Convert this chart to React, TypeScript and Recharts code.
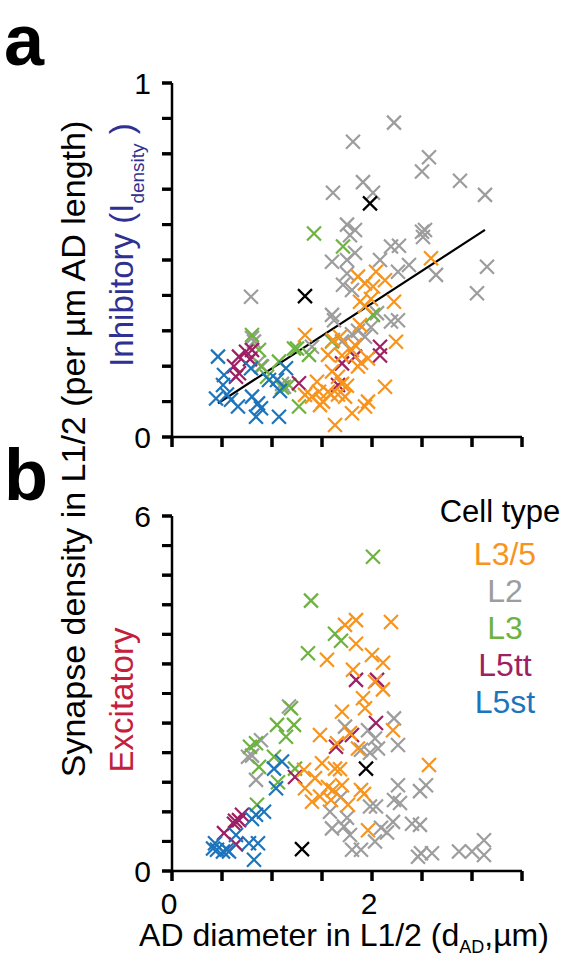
import React from "react"
import { ScatterChart, Scatter, XAxis, YAxis, ReferenceLine } from "recharts"

const FONT = "'Liberation Sans', Arial, sans-serif"

// cell types, legend order
const cellTypes = ["L3/5", "L2", "L3", "L5tt", "L5st"]
const cellColors = ["#f7941d", "#9d9d9d", "#6db33f", "#9e1f63", "#1c75bc"]

const xTicks = [0, 0.5, 1, 1.5, 2, 2.5, 3, 3.5]
const xLabels = [0, 2]
const inhTicks = [0, 0.1, 0.2, 0.3, 0.4, 0.5, 0.6, 0.7, 0.8, 0.9, 1]
const inhLabels = [0, 1]
const excTicks = [0, 0.5, 1, 1.5, 2, 2.5, 3, 3.5, 4, 4.5, 5, 5.5, 6]
const excLabels = [0, 6]

// panel a: inhibitory synapse density vs AD diameter, [diameter, density]
const inhL35 = [
  [1.33, 0.288], [1.56, 0.232], [1.61, 0.274], [1.68, 0.283], [1.8, 0.246], [1.83, 0.26],
  [1.86, 0.199], [1.89, 0.21], [1.96, 0.222], [1.86, 0.453], [1.93, 0.434], [2.01, 0.425],
  [2.04, 0.467], [2.13, 0.443], [1.88, 0.382], [1.93, 0.37], [1.88, 0.316], [2.22, 0.382],
  [2.24, 0.269], [2.59, 0.505], [1.6, 0.185], [1.66, 0.17], [1.7, 0.15], [1.45, 0.156],
  [1.33, 0.119], [1.4, 0.114], [1.47, 0.128], [1.51, 0.1], [1.56, 0.128], [1.59, 0.12],
  [1.66, 0.12], [1.73, 0.114], [1.75, 0.145], [1.48, 0.09], [1.8, 0.067], [1.93, 0.086],
  [1.96, 0.1], [2.13, 0.142], [1.63, 0.034], [1.7, 0.23], [1.99, 0.39],
]
const inhL2 = [
  [2.22, 0.888], [1.81, 0.834], [2.57, 0.79], [2.5, 0.75], [2.88, 0.724], [1.91, 0.72],
  [1.61, 0.69], [2.01, 0.69], [3.13, 0.684], [1.75, 0.6], [1.83, 0.585], [1.78, 0.57],
  [2.5, 0.58], [2.53, 0.585], [2.51, 0.565], [1.83, 0.52], [2.19, 0.538], [2.27, 0.54],
  [1.6, 0.495], [1.75, 0.5], [1.75, 0.462], [1.71, 0.43], [1.8, 0.415], [2.08, 0.5],
  [2.26, 0.467], [2.37, 0.486], [2.64, 0.458], [3.05, 0.406], [3.15, 0.481], [1.6, 0.345],
  [1.62, 0.33], [1.86, 0.3], [1.93, 0.283], [1.99, 0.31], [2.05, 0.35], [2.19, 0.326],
  [2.26, 0.33], [0.79, 0.396], [0.8, 0.28], [0.82, 0.27], [0.9, 0.199], [0.86, 0.21],
  [1.12, 0.142], [1.1, 0.15], [1.4, 0.255], [1.7, 0.27], [1.8, 0.29],
]
const inhL3 = [
  [1.42, 0.575], [1.71, 0.538], [2.01, 0.345], [0.8, 0.288], [0.87, 0.246], [0.89, 0.2],
  [1.07, 0.213], [1.22, 0.25], [1.25, 0.25], [1.37, 0.232], [1.17, 0.147], [1.27, 0.086],
  [0.95, 0.17], [1.1, 0.14], [1.6, 0.27],
]
const inhL5tt = [
  [0.67, 0.227], [0.74, 0.241], [0.8, 0.246], [0.64, 0.17], [0.67, 0.18], [0.62, 0.2],
  [1.27, 0.152], [1.66, 0.147], [1.7, 0.208], [1.83, 0.227], [2.08, 0.255], [2.08, 0.23],
  [0.78, 0.22],
]
const inhL5st = [
  [0.46, 0.227], [0.52, 0.175], [0.51, 0.147], [0.44, 0.109], [0.59, 0.105], [0.66, 0.086],
  [0.79, 0.194], [0.8, 0.114], [0.86, 0.095], [0.84, 0.057], [0.89, 0.081], [0.97, 0.161],
  [1.05, 0.161], [1.14, 0.194], [1.07, 0.057], [1.08, 0.13], [0.55, 0.12],
]
const inhOther = [[1.33, 0.398], [1.98, 0.66]]
const inhFit = [[0.46, 0.095], [3.13, 0.585]]

// panel b: excitatory synapse density vs AD diameter
const excL35 = [
  [1.73, 4.16], [1.84, 4.24], [2.19, 4.21], [1.84, 3.84], [1.55, 3.57], [2.0, 3.65],
  [2.11, 3.52], [1.81, 3.4], [2.03, 3.2], [2.11, 3.07], [1.91, 2.92], [1.93, 2.75],
  [1.7, 2.69], [2.21, 2.38], [1.78, 2.33], [1.48, 2.3], [1.65, 2.16], [1.86, 2.07],
  [1.32, 1.71], [1.5, 1.82], [1.63, 1.73], [1.68, 1.72], [2.57, 1.79], [1.43, 1.57],
  [1.33, 1.4], [1.56, 1.42], [1.61, 1.37], [1.7, 1.45], [1.48, 1.26], [1.4, 1.17],
  [1.59, 1.2], [1.76, 1.12], [1.89, 1.37], [1.92, 1.3], [1.96, 0.69],
]
const excL2 = [
  [1.17, 2.78], [2.22, 2.58], [1.73, 2.44], [1.96, 2.38], [2.03, 2.24], [2.26, 2.13],
  [1.89, 2.05], [2.06, 2.07], [1.98, 2.0], [0.89, 2.21], [0.76, 1.93], [0.8, 1.95],
  [0.84, 1.54], [2.26, 1.45], [2.54, 1.45], [2.48, 1.35], [1.69, 1.25], [2.22, 1.2],
  [2.28, 1.15], [2.04, 1.09], [1.98, 1.09], [1.58, 1.0], [1.6, 0.72], [1.75, 0.9],
  [1.78, 0.61], [1.8, 0.36], [1.89, 0.36], [2.03, 0.5], [2.09, 0.73], [2.15, 0.65],
  [2.21, 0.83], [2.4, 0.8], [2.48, 0.78], [2.49, 0.3], [2.46, 0.24], [2.6, 0.3],
  [2.87, 0.33], [3.0, 0.33], [3.12, 0.52], [3.12, 0.27], [1.72, 0.75],
]
const excL3 = [
  [2.01, 5.31], [1.39, 4.57], [1.63, 4.01], [1.69, 3.89], [1.36, 3.68], [1.19, 2.75],
  [1.05, 2.47], [1.22, 2.47], [1.14, 2.27], [0.84, 2.16], [0.78, 2.1], [0.87, 1.76],
  [1.02, 1.93], [1.23, 1.73], [1.06, 1.5], [0.85, 1.12],
]
const excL5tt = [
  [1.84, 3.23], [2.05, 3.23], [2.04, 2.5], [1.8, 2.3], [1.64, 2.1], [1.23, 1.59],
  [0.67, 0.86], [0.63, 0.85], [0.7, 0.95], [0.62, 0.8], [0.52, 0.64], [0.64, 0.45],
]
const excL5st = [
  [1.1, 1.85], [1.02, 1.73], [1.04, 1.4], [0.92, 1.0], [0.84, 0.95], [0.8, 0.88],
  [0.64, 0.61], [0.43, 0.47], [0.45, 0.36], [0.51, 0.33], [0.57, 0.33], [0.77, 0.47],
  [0.86, 0.47], [0.82, 0.19], [0.41, 0.38], [0.55, 0.36],
]
const excOther = [[1.94, 1.73], [1.3, 0.37]]

const toPts = (arr: number[][]) => arr.map(([x, y]) => ({ x, y }))

function cross(color: string, r = 7) {
  return (props: any) => {
    const { cx, cy } = props
    if (cx == null || cy == null) return <g />
    return (
      <path
        d={`M${cx - r},${cy - r}L${cx + r},${cy + r}M${cx - r},${cy + r}L${cx + r},${cy - r}`}
        stroke={color}
        strokeWidth={2.2}
        fill="none"
      />
    )
  }
}

const TICK = 10
const TW = 3
const axisStyle = { stroke: "#000", strokeWidth: 2.5 }
const tickLineStyle = { stroke: "#000", strokeWidth: TW }

// labels only on a few ticks; x/y come in at the outer end of the tick line
function yLabel(labels: number[]) {
  return (props: any) => {
    const { x, y, payload } = props
    const v = payload.value
    return (
      <g>
        <rect x={x} y={y - TW / 2} width={TICK} height={TW} fill="#000" />
        {labels.includes(v) && (
          <text x={x - 11} y={y} dy="0.36em" textAnchor="end" fontSize={30} fontFamily={FONT} fill="#000">
            {v}
          </text>
        )}
      </g>
    )
  }
}

function xLabel(labels: number[]) {
  return (props: any) => {
    const { x, y, payload } = props
    const v = payload.value
    return (
      <g>
        <rect x={x - TW / 2} y={y - TICK} width={TW} height={TICK} fill="#000" />
        {labels.includes(v) && (
          <text x={x - 3} y={y + 12} dy="0.71em" textAnchor="middle" fontSize={30} fontFamily={FONT} fill="#000">
            {v}
          </text>
        )}
      </g>
    )
  }
}

// draw order: L2 under everything, L3/5 near the top
function seriesFor(l35: number[][], l2: number[][], l3: number[][], l5tt: number[][], l5st: number[][], other: number[][]) {
  const list: [number[][], string][] = [
    [l2, cellColors[1]],
    [l3, cellColors[2]],
    [l5tt, cellColors[3]],
    [l5st, cellColors[4]],
    [l35, cellColors[0]],
    [other, "#000"],
  ]
  return list.map(([d, c], i) => (
    <Scatter key={i} data={toPts(d)} shape={cross(c)} isAnimationActive={false} />
  ))
}

export default function App() {
  return (
    <div style={{ position: "absolute", left: 0, top: 0, width: 563, height: 977, background: "#fff" }}>
      {/* titles and legend sit underneath the two charts */}
      <svg width={563} height={977} style={{ position: "absolute", left: 0, top: 0 }} fontFamily={FONT}>
        <text x={4} y={65} fontSize={72} fontWeight="bold">a</text>
        <text x={4} y={500} fontSize={72} fontWeight="bold">b</text>
        <text transform="translate(85,449) rotate(-90)" textAnchor="middle" fontSize={34} fill="#000">
          Synapse density in L1/2 (per µm AD length)
        </text>
        <text transform="translate(133,245) rotate(-90)" textAnchor="middle" fontSize={33} fill="#2e3192">
          Inhibitory (I<tspan fontSize={19} dy={11}>density</tspan><tspan dy={-11}> )</tspan>
        </text>
        <text transform="translate(133,700) rotate(-90)" textAnchor="middle" fontSize={33} fill="#c4203b">
          Excitatory
        </text>
        <text x={344} y={946} textAnchor="middle" fontSize={32} fill="#000">
          AD diameter in L1/2 (d<tspan fontSize={18} dy={7}>AD</tspan><tspan dy={-7}>,µm)</tspan>
        </text>
        <text x={500} y={522} textAnchor="middle" fontSize={31} fill="#000">Cell type</text>
        {cellTypes.map((t, i) => (
          <text key={t} x={505} y={565 + 37 * i} textAnchor="middle" fontSize={32} fill={cellColors[i]}>
            {t}
          </text>
        ))}
      </svg>
      <div style={{ position: "absolute", left: 0, top: 0 }}>
        <ScatterChart width={563} height={480} margin={{ top: 83, right: 41, bottom: 23, left: 112 }}>
          <XAxis
            type="number"
            dataKey="x"
            domain={[0, 3.5]}
            ticks={xTicks}
            interval={0}
            height={20}
            tickSize={TICK}
            tickMargin={0}
            axisLine={axisStyle}
            tickLine={tickLineStyle}
            tick={xLabel([])}
          />
          <YAxis
            type="number"
            dataKey="y"
            domain={[0, 1]}
            ticks={inhTicks}
            interval={0}
            width={60}
            tickSize={TICK}
            tickMargin={0}
            axisLine={axisStyle}
            tickLine={tickLineStyle}
            tick={yLabel(inhLabels)}
          />
          {seriesFor(inhL35, inhL2, inhL3, inhL5tt, inhL5st, inhOther)}
          <ReferenceLine
            segment={inhFit.map(([x, y]) => ({ x, y }))}
            stroke="#000"
            strokeWidth={2.2}
          />
        </ScatterChart>
      </div>
      <div style={{ position: "absolute", left: 0, top: 480 }}>
        <ScatterChart width={563} height={497} margin={{ top: 36, right: 41, bottom: 46, left: 112 }}>
          <XAxis
            type="number"
            dataKey="x"
            domain={[0, 3.5]}
            ticks={xTicks}
            interval={0}
            height={60}
            tickSize={TICK}
            tickMargin={0}
            axisLine={axisStyle}
            tickLine={tickLineStyle}
            tick={xLabel(xLabels)}
          />
          <YAxis
            type="number"
            dataKey="y"
            domain={[0, 6]}
            ticks={excTicks}
            interval={0}
            width={60}
            tickSize={TICK}
            tickMargin={0}
            axisLine={axisStyle}
            tickLine={tickLineStyle}
            tick={yLabel(excLabels)}
          />
          {seriesFor(excL35, excL2, excL3, excL5tt, excL5st, excOther)}
        </ScatterChart>
      </div>
    </div>
  )
}
